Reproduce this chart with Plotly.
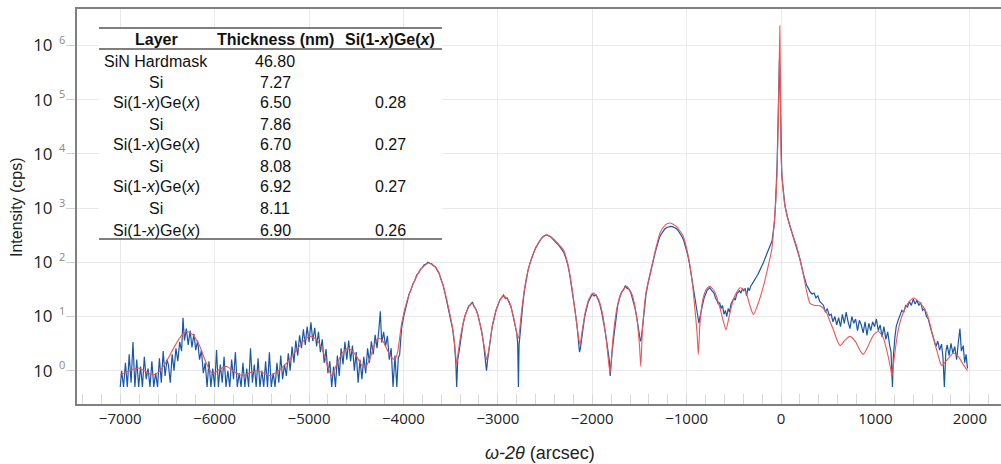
import plotly.graph_objects as go

# ---------------- table values ----------------
table_header = ["Layer", "Thickness (nm)", "Si(1-x)Ge(x)"]
table_layer = ["SiN Hardmask", "Si", "Si(1-x)Ge(x)", "Si", "Si(1-x)Ge(x)", "Si",
               "Si(1-x)Ge(x)", "Si", "Si(1-x)Ge(x)"]
table_thickness = ["46.80", "7.27", "6.50", "7.86", "6.70", "8.08", "6.92", "8.11", "6.90"]
table_ge = ["", "", "0.28", "", "0.27", "", "0.27", "", "0.26"]

# ---------------- axis ticks ----------------
y_tickvals = [1, 10, 100, 1000, 10000, 100000, 1000000]
y_tickexp = [0, 1, 2, 3, 4, 5, 6]
x_tickvals = [-7000, -6000, -5000, -4000, -3000, -2000, -1000, 0, 1000, 2000]

# ---------------- simulated curve (omega-2theta arcsec, cps) ----------------
sim_pts = [
    (-7000, 0.84), (-6900, 1.0), (-6808, 1.12), (-6720, 0.95), (-6650, 0.84), (-6580, 0.98),
    (-6500, 1.6), (-6420, 2.9), (-6350, 4.5), (-6296, 5.3), (-6230, 4.6), (-6160, 2.9),
    (-6090, 1.4), (-6040, 0.95), (-6013, 0.88), (-5950, 1.05), (-5872, 1.2), (-5790, 0.95),
    (-5696, 0.81), (-5620, 0.93), (-5554, 1.0), (-5480, 0.9), (-5413, 0.81), (-5340, 0.95),
    (-5236, 1.4), (-5130, 2.4), (-5050, 3.7), (-4989, 4.3), (-4920, 3.8), (-4850, 2.2),
    (-4800, 1.15), (-4760, 0.81), (-4720, 1.15), (-4650, 2.1), (-4583, 2.6), (-4510, 2.0),
    (-4440, 1.25), (-4407, 1.12), (-4360, 1.6), (-4300, 3.2), (-4266, 4.0), (-4220, 3.6),
    (-4160, 2.2), (-4110, 1.65), (-4089, 1.6), (-4060, 2.3), (-4018, 7.6), (-3960, 20),
    (-3894, 41), (-3820, 73), (-3736, 97), (-3650, 77), (-3577, 36), (-3520, 14),
    (-3471, 5), (-3445, 1.8), (-3436, 1.3), (-3420, 2.2), (-3380, 6), (-3330, 12.5),
    (-3277, 17.7), (-3220, 12), (-3170, 5), (-3130, 2), (-3118, 1.6), (-3100, 2.2),
    (-3050, 8), (-2990, 18), (-2941, 24), (-2880, 19), (-2830, 9), (-2795, 4.6),
    (-2782, 4), (-2750, 12), (-2720, 30), (-2694, 55), (-2650, 110), (-2606, 170),
    (-2550, 260), (-2482, 323), (-2420, 280), (-2360, 220), (-2306, 170), (-2260, 95),
    (-2217, 36), (-2180, 12), (-2147, 4.3), (-2129, 3.0), (-2110, 5), (-2070, 13),
    (-2030, 22), (-1988, 27), (-1940, 22), (-1890, 11), (-1850, 3.5), (-1811, 0.9),
    (-1780, 4), (-1740, 14), (-1690, 28), (-1635, 36), (-1580, 26), (-1530, 10),
    (-1500, 3), (-1486, 1.2), (-1470, 5), (-1430, 28), (-1370, 84), (-1320, 200),
    (-1282, 347), (-1230, 480), (-1176, 530), (-1110, 460), (-1035, 300), (-990, 150),
    (-964, 84), (-935, 35), (-911, 13), (-890, 5), (-876, 2.0), (-860, 7),
    (-830, 20), (-790, 32), (-752, 36), (-700, 28), (-650, 15), (-610, 8),
    (-583, 5.7), (-550, 10), (-500, 22), (-434, 34), (-380, 30), (-330, 16),
    (-293, 10.8), (-250, 16), (-187, 36), (-140, 80), (-99, 170), (-70, 600),
    (-50, 2000), (-35, 15000), (-22, 200000), (-13, 2300000), (-6, 150000), (0, 10000),
    (15, 3000), (42, 1100), (95, 460), (166, 195), (201, 112), (236, 60),
    (270, 30), (307, 17.5), (360, 16), (413, 15.8), (450, 14), (484, 11.6),
    (520, 8), (554, 5.7), (590, 3.8), (625, 2.9), (680, 3.7), (731, 4.3),
    (790, 3.4), (840, 2.3), (872, 2.0), (920, 2.8), (980, 4.6), (1031, 5.3),
    (1080, 4.2), (1130, 2.0), (1160, 1.1), (1176, 0.8), (1200, 1.8), (1240, 5.5),
    (1279, 10), (1340, 17), (1402, 22), (1470, 18), (1543, 11.6), (1600, 5),
    (1649, 2.4), (1690, 1.35), (1702, 1.24), (1760, 1.6), (1825, 2.1), (1880, 1.8),
    (1930, 1.3), (1975, 1.0),
]

# ---------------- measured curve, read segment by segment ----------------
meas_a = [
    (-7000, 0.5), (-6985, 1.0), (-6965, 0.5), (-6945, 1.4), (-6925, 0.5), (-6905, 2.0),
    (-6885, 0.6), (-6865, 3.4), (-6845, 0.5), (-6825, 1.6), (-6805, 0.5), (-6785, 1.2),
    (-6765, 0.5), (-6745, 1.8), (-6725, 0.7), (-6705, 1.1), (-6685, 0.5), (-6665, 1.5),
    (-6645, 0.5), (-6625, 0.9), (-6605, 0.5), (-6585, 1.7), (-6565, 0.6), (-6545, 2.3),
    (-6525, 0.8), (-6505, 1.6),
]
meas_b = [
    (-6490, 1.3), (-6470, 0.6), (-6450, 2.0), (-6430, 1.0), (-6410, 2.6), (-6390, 1.5),
    (-6370, 3.4), (-6350, 2.3), (-6335, 9.5), (-6320, 3.6), (-6300, 6.0), (-6280, 3.0),
    (-6260, 5.5), (-6240, 2.7), (-6220, 4.8), (-6200, 2.4), (-6180, 3.6), (-6160, 1.6),
    (-6140, 2.4), (-6120, 0.9), (-6100, 1.4),
]
meas_c = [
    (-6080, 0.5), (-6060, 1.5), (-6040, 0.5), (-6020, 1.1), (-6000, 0.5), (-5980, 2.4),
    (-5960, 0.5), (-5940, 1.3), (-5920, 0.6), (-5900, 1.8), (-5880, 0.5), (-5860, 1.0),
    (-5840, 0.5), (-5820, 1.6), (-5800, 0.7), (-5780, 2.2), (-5760, 0.5), (-5740, 0.9),
    (-5720, 0.5), (-5700, 1.4), (-5680, 0.5), (-5660, 1.1), (-5640, 0.5), (-5620, 2.6),
    (-5600, 0.6), (-5580, 1.3), (-5560, 0.5), (-5540, 1.7), (-5520, 0.5), (-5500, 1.0),
    (-5480, 0.5), (-5460, 1.5), (-5440, 0.5), (-5420, 2.2), (-5400, 0.5), (-5380, 0.9),
    (-5360, 0.5), (-5340, 1.4), (-5320, 0.6), (-5300, 1.9), (-5280, 0.7), (-5260, 1.3),
    (-5240, 0.8),
]
meas_d = [
    (-5220, 2.1), (-5200, 1.0), (-5180, 2.8), (-5160, 1.4), (-5140, 3.6), (-5120, 1.9),
    (-5100, 4.5), (-5080, 2.6), (-5060, 5.8), (-5040, 3.0), (-5020, 6.5), (-5000, 3.4),
    (-4980, 7.8), (-4960, 3.5), (-4940, 6.2), (-4920, 2.8), (-4900, 5.2), (-4880, 2.2),
    (-4860, 3.8), (-4840, 1.4), (-4820, 2.5), (-4800, 0.9), (-4780, 1.5),
]
meas_e = [
    (-4760, 0.5), (-4740, 1.2), (-4720, 0.5), (-4700, 1.9), (-4680, 0.8), (-4660, 2.6),
    (-4640, 1.3), (-4620, 3.4), (-4600, 1.6), (-4580, 3.6), (-4560, 1.5), (-4540, 2.9),
    (-4520, 1.0), (-4500, 2.2), (-4480, 0.6), (-4460, 1.6),
]
meas_f = [
    (-4440, 0.7), (-4420, 1.8), (-4400, 0.9), (-4380, 2.6), (-4360, 1.4), (-4340, 3.5),
    (-4320, 2.0), (-4300, 4.6), (-4280, 2.6), (-4260, 5.8), (-4245, 12.5), (-4230, 3.3),
    (-4210, 5.2), (-4190, 2.8), (-4170, 4.4), (-4150, 1.6), (-4130, 2.6), (-4110, 0.5),
    (-4090, 1.9), (-4070, 0.5), (-4055, 1.7),
]
meas_g = [
    (-4040, 2.0), (-4020, 6.0), (-4000, 9.5), (-3980, 14), (-3960, 19), (-3940, 26),
    (-3920, 31), (-3900, 40), (-3880, 46), (-3860, 58), (-3840, 63), (-3820, 74),
    (-3800, 80), (-3780, 90), (-3760, 93), (-3740, 100), (-3720, 96), (-3700, 94),
    (-3680, 86), (-3660, 82), (-3640, 70), (-3620, 62), (-3600, 47), (-3580, 38),
    (-3560, 27), (-3540, 19), (-3520, 13), (-3500, 9), (-3480, 6), (-3460, 3.2),
    (-3445, 1.4), (-3436, 0.5), (-3425, 1.6), (-3410, 2.3), (-3390, 4.5), (-3370, 7),
    (-3350, 10), (-3330, 12), (-3310, 15.5), (-3290, 16.5), (-3270, 18.5), (-3250, 15),
    (-3230, 13.5), (-3210, 10.5), (-3190, 7.5), (-3170, 5.2), (-3150, 3.0), (-3130, 1.6),
    (-3120, 1.0), (-3110, 1.5), (-3095, 2.4), (-3080, 3.8), (-3060, 6.5), (-3040, 9),
    (-3020, 13), (-3000, 16), (-2980, 20), (-2960, 22), (-2940, 25), (-2920, 21.5),
    (-2900, 22), (-2880, 18), (-2860, 15), (-2840, 10.5), (-2820, 7.5), (-2800, 5),
    (-2790, 3.2), (-2782, 0.5), (-2775, 3.0), (-2760, 6.5), (-2740, 14), (-2720, 29),
    (-2700, 48), (-2680, 72), (-2660, 95), (-2640, 125), (-2620, 150), (-2600, 185),
    (-2580, 215), (-2560, 250), (-2540, 275), (-2520, 300), (-2500, 315), (-2480, 318),
    (-2460, 310), (-2440, 295), (-2420, 270), (-2400, 250), (-2380, 232), (-2360, 210),
    (-2340, 190), (-2320, 170), (-2300, 150), (-2280, 120), (-2260, 92), (-2240, 62),
    (-2220, 38), (-2200, 22), (-2180, 12), (-2160, 6.5), (-2145, 3.6), (-2135, 2.2),
    (-2125, 2.6), (-2115, 3.4), (-2100, 6), (-2080, 10), (-2060, 14), (-2040, 19),
    (-2020, 22), (-2000, 26), (-1980, 24), (-1960, 25), (-1940, 21), (-1920, 17),
    (-1900, 12), (-1880, 8), (-1860, 5), (-1840, 2.8), (-1820, 1.6), (-1810, 0.8),
    (-1800, 1.4), (-1790, 2.2), (-1770, 4.5), (-1750, 9.5), (-1730, 16), (-1710, 22),
    (-1690, 28), (-1670, 31), (-1650, 37), (-1630, 33), (-1610, 32), (-1590, 27),
    (-1570, 21), (-1550, 15), (-1530, 10), (-1515, 7), (-1500, 5), (-1490, 3.5),
    (-1480, 3.9), (-1470, 6), (-1450, 14), (-1430, 26), (-1410, 40), (-1390, 58),
    (-1370, 80), (-1350, 110), (-1330, 160), (-1310, 210), (-1290, 280), (-1270, 330),
    (-1250, 380), (-1230, 415), (-1210, 440), (-1190, 455), (-1170, 460), (-1150, 455),
    (-1130, 440), (-1110, 420), (-1090, 385), (-1070, 345), (-1050, 300), (-1030, 250),
    (-1010, 195), (-990, 140), (-970, 95), (-950, 58), (-930, 34), (-910, 20),
]
meas_h = [
    (-895, 13), (-880, 9), (-870, 7.5), (-860, 9.5), (-845, 12), (-830, 17),
    (-815, 22), (-800, 27), (-785, 30), (-770, 32), (-755, 34), (-740, 31),
    (-725, 29), (-710, 27), (-695, 22), (-680, 20), (-665, 17), (-650, 18),
    (-635, 14), (-620, 16), (-605, 11), (-590, 13), (-575, 10), (-560, 14),
    (-545, 12), (-530, 17), (-515, 19), (-500, 22), (-485, 20), (-470, 26),
    (-455, 28), (-440, 30), (-425, 27), (-410, 32), (-395, 30), (-380, 33),
    (-365, 24), (-350, 34), (-335, 30), (-320, 37), (-305, 40), (-290, 44),
    (-275, 47), (-260, 52), (-245, 60), (-230, 68), (-215, 76), (-200, 86),
    (-185, 100), (-170, 118), (-155, 140), (-140, 165), (-125, 190), (-110, 215),
    (-95, 250), (-80, 380), (-70, 550), (-60, 1100), (-50, 2600), (-42, 6000),
    (-35, 22000), (-28, 100000), (-22, 350000), (-17, 550000), (-12, 300000), (-8, 80000),
    (-4, 20000), (0, 9000), (8, 4000), (20, 2500), (40, 1150), (70, 650),
    (95, 460), (130, 300), (166, 190), (200, 115), (236, 62),
]
meas_i = [
    (250, 48), (270, 38), (290, 33), (310, 28), (330, 26), (350, 27),
    (370, 22), (390, 24), (410, 19), (430, 17), (450, 16), (470, 12),
    (490, 14), (510, 10.5), (530, 11), (550, 8), (570, 10), (590, 7),
    (610, 9.5), (630, 6.5), (650, 11), (670, 7.5), (690, 12), (710, 8),
    (730, 6), (750, 10), (770, 7.5), (790, 9), (810, 5.5), (830, 8.5),
    (850, 7), (870, 5), (890, 8), (910, 4.5), (930, 7.5), (950, 5.5),
    (970, 8), (990, 6.5), (1010, 9), (1030, 5.5), (1050, 7), (1070, 4.2),
    (1090, 6.5), (1110, 3.8), (1130, 5.2), (1150, 3.0), (1165, 2.2), (1180, 0.5),
    (1190, 1.8), (1205, 4.0), (1220, 6.5), (1240, 8.5), (1260, 11), (1280, 13),
    (1300, 12), (1320, 16), (1340, 15), (1360, 19), (1380, 16), (1400, 21),
    (1420, 17), (1440, 20), (1460, 16), (1480, 18), (1500, 13), (1520, 14),
    (1540, 10), (1560, 9), (1580, 6.5), (1600, 5), (1620, 4), (1640, 2.8),
    (1660, 3.5), (1680, 2.4), (1700, 3.1), (1715, 1.8), (1730, 0.5), (1745, 2.2),
    (1760, 3.0), (1780, 1.9), (1800, 3.2), (1820, 2.1), (1840, 2.8), (1860, 1.6),
    (1880, 3.6), (1895, 6), (1910, 2.3), (1930, 2.9), (1945, 1.4), (1960, 2.0),
    (1975, 1.1),
]
meas_segments = [meas_a, meas_b, meas_c, meas_d, meas_e, meas_f, meas_g, meas_h, meas_i]

meas_x = [p[0] for seg in meas_segments for p in seg]
meas_y = [p[1] for seg in meas_segments for p in seg]
sim_x = [p[0] for p in sim_pts]
sim_y = [p[1] for p in sim_pts]

# ---------------- figure ----------------
W, H = 1001, 464
ML, MT, MR, MB = 77, 9, 0, 60
PW, PH = W - ML - MR, H - MT - MB


def pxx(x):
    return (x - ML) / PW


def pxy(y):
    return (MT + PH - y) / PH


fig = go.Figure()
fig.add_trace(go.Scatter(x=meas_x, y=meas_y, mode="lines",
                         line=dict(color="#1b57a7", width=1.2), showlegend=False))
fig.add_trace(go.Scatter(x=sim_x, y=sim_y, mode="lines",
                         line=dict(color="#f05555", width=1.1, shape="spline", smoothing=0.6),
                         showlegend=False))

GRID = "#e9e9e9"
fig.update_layout(
    width=W, height=H,
    margin=dict(l=ML, r=MR, t=MT, b=MB),
    paper_bgcolor="white", plot_bgcolor="white",
    font=dict(family="Open Sans, Arial, sans-serif", color="#333333"),
    xaxis=dict(
        range=[-7458, 2330], tickvals=x_tickvals,
        showgrid=True, gridcolor=GRID, gridwidth=1,
        showline=True, linecolor="#808080", linewidth=2, mirror=True,
        ticks="inside", ticklen=10, tickcolor="#d9d9d9",
        minor=dict(dtick=200, tick0=0, ticks="inside", ticklen=10, tickcolor="#d9d9d9",
                   showgrid=False),
        tickfont=dict(size=15, color="#222222"), zeroline=False,
    ),
    yaxis=dict(
        type="log", range=[-0.614, 6.673],
        tickvals=y_tickvals,
        ticktext=["10" for _ in y_tickvals],
        ticklabelstandoff=10,
        showgrid=True, gridcolor=GRID, gridwidth=1,
        showline=True, linecolor="#808080", linewidth=2,
        ticks="outside", ticklen=9, tickcolor="#d0d0d0",
        tickfont=dict(size=17, color="#222222"), zeroline=False,
    ),
)

annotations = []
shapes = []

# exponents of the y tick labels (small grey superscripts)
for e in y_tickexp:
    annotations.append(dict(
        x=pxx(57), y=e, xref="paper", yref="y", showarrow=False,
        text=str(e), font=dict(size=11, color="#888888"),
        xanchor="left", yanchor="middle", yshift=6))

# axis titles
TF = "Liberation Sans, Arial, sans-serif"
annotations.append(dict(
    x=pxx(540), y=pxy(453), xref="paper", yref="paper", showarrow=False,
    text="<i>ω-2θ</i> (arcsec)", font=dict(size=18, color="#222222", family=TF),
    xanchor="center", yanchor="middle"))
annotations.append(dict(
    x=pxx(16), y=pxy(207), xref="paper", yref="paper", showarrow=False,
    text="Intensity (cps)", textangle=-90, font=dict(size=16, color="#222222", family=TF),
    xanchor="center", yanchor="middle"))

# table
tbl_x0, tbl_x1 = 99, 442
col_cx = [156, 275, 390]
header_y = 40
row_y = [61, 82, 102, 124, 145, 166, 187, 208, 230]
shapes.append(dict(type="rect", xref="paper", yref="paper",
                   x0=pxx(tbl_x0), x1=pxx(tbl_x1), y0=pxy(239), y1=pxy(28),
                   fillcolor="white", line=dict(width=0), layer="above"))
for yy in [28, 49, 239]:
    shapes.append(dict(type="line", xref="paper", yref="paper",
                       x0=pxx(tbl_x0), x1=pxx(tbl_x1), y0=pxy(yy), y1=pxy(yy),
                       line=dict(color="#555555", width=1.5), layer="above"))


def fmt(s):
    return s.replace("(1-x)", "(1-<i>x</i>)").replace("Ge(x)", "Ge(<i>x</i>)")


for cx, h in zip(col_cx, table_header):
    annotations.append(dict(
        x=pxx(cx), y=pxy(header_y), xref="paper", yref="paper", showarrow=False,
        text="<b>%s</b>" % fmt(h), font=dict(size=16, color="#111111", family=TF),
        xanchor="center", yanchor="middle"))
for ry, a, b, c in zip(row_y, table_layer, table_thickness, table_ge):
    for cx, t in zip(col_cx, [a, b, c]):
        if t:
            annotations.append(dict(
                x=pxx(cx), y=pxy(ry), xref="paper", yref="paper", showarrow=False,
                text=fmt(t), font=dict(size=16, color="#111111", family=TF),
                xanchor="center", yanchor="middle"))

fig.update_layout(annotations=annotations, shapes=shapes)
fig.write_html("out.html")
